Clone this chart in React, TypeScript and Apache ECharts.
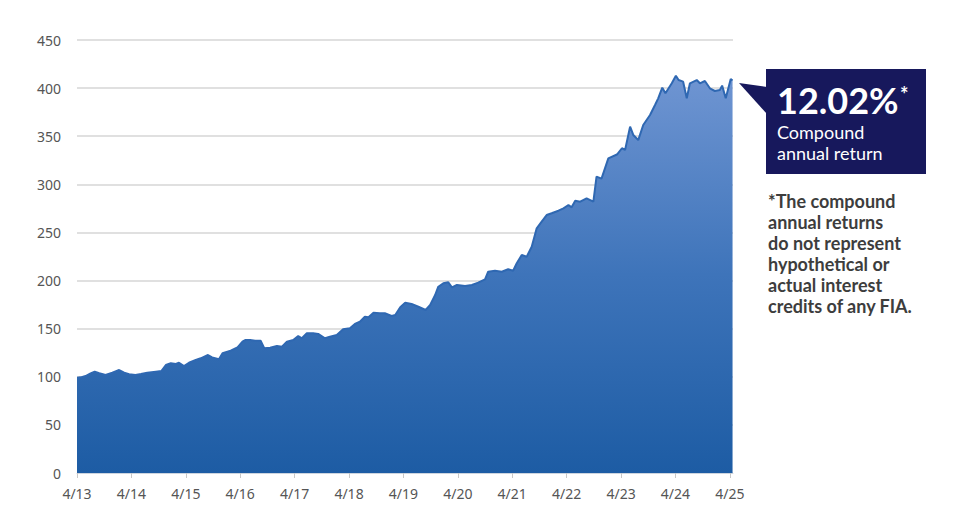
import { useEffect, useRef } from "react";
import * as echarts from "echarts";

// months since April 2013
const months = [
  0, 0.8, 1.9, 3.0, 3.9, 4.9, 6.3, 7.8, 9.3, 10.4, 11.5, 12.9, 14.1, 15.5, 17.4, 18.6,
  19.6, 20.7, 21.8, 22.5, 23.6, 24.7, 26.2, 27.3, 28.9, 29.8, 31.3, 32.1, 33.9, 35.4,
  36.5, 37.1, 38.2, 39.3, 40.5, 41.3, 42.6, 44.1, 45.2, 46.3, 47.7, 48.8, 49.6, 50.7,
  52.1, 53.2, 54.7, 55.8, 57.3, 58.7, 60.2, 61.3, 62.4, 63.5, 64.3, 65.4, 66.8, 67.9,
  69.4, 70.2, 71.3, 72.4, 73.8, 75.3, 76.9, 77.9, 79.0, 79.7, 80.8, 81.9, 82.7, 83.8,
  85.6, 87.1, 88.5, 90.0, 90.7, 92.2, 93.7, 95.1, 96.2, 97.0, 98.1, 99.2, 100.3, 101.4,
  102.5, 103.6, 104.7, 106.2, 107.3, 108.4, 109.1, 109.9, 111.0, 112.4, 113.9, 114.6,
  115.7, 117.2, 119.1, 120.2, 120.9, 122.0, 122.7, 123.8, 124.9, 126.4, 127.5, 128.2,
  129.1, 129.8, 131.2, 132.1, 132.7, 133.7, 134.5, 135.2, 136.7, 137.4, 138.5, 139.6,
  140.7, 141.8, 142.3, 143.1, 144.2, 144.6,
];

const values = [
  99, 99.4, 100.8, 103.6, 105.3, 103.6, 101.8, 104.2, 107, 104.2, 102.6, 101.8, 102.9,
  104.2, 105.3, 106, 112.2, 114, 113.3, 114.6, 111.2, 114.6, 117.4, 119.2, 122.6, 120.2,
  118.2, 124.4, 127.1, 130.6, 136.5, 138.2, 138.2, 137.5, 137.5, 129.6, 130.2, 132,
  131.3, 136.5, 138.2, 142.4, 140, 145.2, 145.2, 144.5, 140, 141.7, 143.4, 149.3, 150.4,
  154.9, 157.2, 162.4, 161.8, 166.6, 166, 166, 163.2, 164.2, 172.2, 177, 175.6, 172.8,
  169.4, 174.6, 185, 193.6, 197.1, 198.2, 193, 195.4, 194.3, 195.4, 197.8, 201.3, 209.2,
  210.2, 209.2, 211.7, 210.2, 218, 226.6, 224.8, 235.2, 254.3, 261.2, 268.1, 269.9,
  272.6, 275.1, 278.5, 276.1, 283, 282, 285.5, 282, 308, 306, 327, 331, 337.5, 335.7,
  360, 351.3, 346, 361.7, 372, 382.5, 389.4, 400.4, 394.6, 405, 412.9, 408.4, 406.7,
  389.4, 405, 408.4, 405, 407.4, 399.8, 397, 398, 402.6, 389.4, 409.5, 408,
];

const xLabels = [
  "4/13", "4/14", "4/15", "4/16", "4/17", "4/18", "4/19",
  "4/20", "4/21", "4/22", "4/23", "4/24", "4/25",
];

const calloutValue = "12.02%";
const calloutLines = "Compound\nannual return";
const footnote =
  "*The compound\nannual returns\ndo not represent\nhypothetical or\nactual interest\ncredits of any FIA.";

export default function App() {
  const ref = useRef<HTMLDivElement | null>(null);

  useEffect(() => {
    if (!ref.current) return;
    const chart = echarts.init(ref.current, undefined, { renderer: "svg" });
    const navy = "#17185c";

    chart.setOption({
      animation: false,
      grid: { left: 77, right: 227, top: 40, bottom: 53 },
      xAxis: {
        type: "value",
        min: 0,
        max: 144.7,
        interval: 12,
        axisLine: { lineStyle: { color: "#cdd5df", width: 1 } },
        axisTick: { show: true, length: 5, lineStyle: { color: "#c8c8c8" } },
        splitLine: { show: false },
        axisLabel: {
          margin: 13,
          color: "#555",
          fontSize: 14,
          fontFamily: "Noto Sans",
          showMaxLabel: false,
          formatter: (v: number) => xLabels[Math.round(v / 12)] ?? "",
        },
      },
      yAxis: {
        type: "value",
        min: 0,
        max: 450,
        interval: 50,
        axisLine: { show: false },
        axisTick: { show: false },
        splitLine: { lineStyle: { color: "#d6d6d6", width: 1.5 } },
        axisLabel: {
          margin: 16,
          color: "#555",
          fontSize: 14,
          fontFamily: "Noto Sans",
        },
      },
      series: [
        {
          type: "line",
          data: months.map((m, i) => [m, values[i]]),
          showSymbol: false,
          lineStyle: { color: "#2f68b2", width: 2 },
          areaStyle: {
            opacity: 1,
            color: new echarts.graphic.LinearGradient(0, 0, 0, 1, [
              { offset: 0, color: "#6f95d2" },
              { offset: 0.5, color: "#3e74ba" },
              { offset: 1, color: "#1d5ca4" },
            ]),
          },
          z: 3,
        },
      ],
      graphic: [
        {
          type: "polygon",
          shape: { points: [[739, 83], [767, 87], [767, 114]] },
          style: { fill: navy },
        },
        {
          type: "rect",
          shape: { x: 766, y: 69, width: 160, height: 105 },
          style: { fill: navy },
        },
        {
          type: "text",
          x: 777,
          y: 100,
          style: {
            text: calloutValue,
            fill: "#fff",
            font: "bold 36px Lato",
            verticalAlign: "middle",
          },
        },
        {
          type: "text",
          x: 900,
          y: 94,
          style: {
            text: "*",
            fill: "#fff",
            font: "bold 20px Lato",
            verticalAlign: "middle",
          },
        },
        {
          type: "text",
          x: 777,
          y: 121,
          style: {
            text: calloutLines,
            fill: "#fff",
            font: "18px Lato",
            lineHeight: 21,
            verticalAlign: "top",
          },
        },
        {
          type: "text",
          x: 768,
          y: 190,
          style: {
            text: footnote,
            fill: "#3d3d3d",
            font: "bold 18px Lato",
            lineHeight: 21.1,
            verticalAlign: "top",
          },
        },
      ],
    });

    return () => chart.dispose();
  }, []);

  return (
    <div
      ref={ref}
      style={{ position: "absolute", left: 0, top: 0, width: 960, height: 526 }}
    />
  );
}
